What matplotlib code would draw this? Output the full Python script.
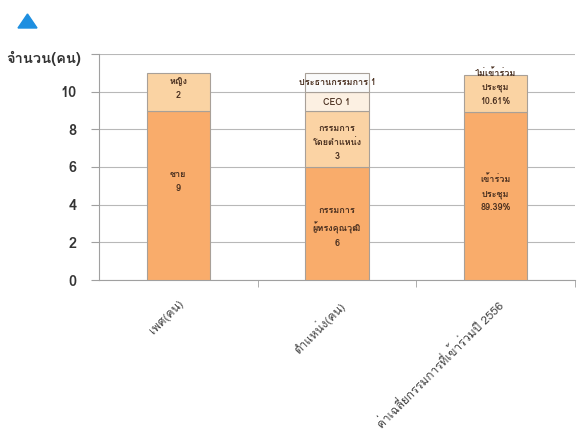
import numpy as np
import matplotlib
matplotlib.use('Agg')
import matplotlib.pyplot as plt
from matplotlib import font_manager
from matplotlib.patches import Polygon

# หาฟอนต์ที่มีตัวอักษรไทย
def find_thai_font():
    try:
        from fontTools.ttLib import TTFont
    except ImportError:
        return None
    for f in font_manager.fontManager.ttflist:
        try:
            tt = TTFont(f.fname, fontNumber=0, lazy=True)
            if 0x0E01 in tt.getBestCmap():
                return f.name
        except Exception:
            continue
    return None

thai = find_thai_font()
families = ([thai] if thai else []) + ['DejaVu Sans']
plt.rcParams['font.family'] = families

# ข้อมูล
categories = ['เพศ(คน)', 'ตำแหน่ง(คน)', 'ค่าเฉลี่ยกรรมการที่เข้าร่วมปี 2556']
seg_values = [
    [9, 2],
    [6, 3, 1, 1],
    [8.94, 1.96],
]
seg_labels = [
    ['ชาย\n9', 'หญิง\n2'],
    ['กรรมการ\nผู้ทรงคุณวุฒิ\n6', 'กรรมการ\nโดยตำแหน่ง\n3', 'CEO 1', 'ประธานกรรมการ 1'],
    ['เข้าร่วม\nประชุม\n89.39%', 'ไม่เข้าร่วม\nประชุม\n10.61%'],
]
label_y = [
    [5.25, 10.15],
    [2.8, 7.3, 9.45, 10.5],
    [4.6, 10.25],
]
seg_colors = [
    ['#F9AC6B', '#FAD3A3'],
    ['#F9AC6B', '#FBD3A4', '#FCF0E2', '#FAFAFA'],
    ['#F9AC6B', '#FAD3A3'],
]
yticks = [0, 2, 4, 6, 8, 10]

fig = plt.figure(figsize=(5.77, 4.42), dpi=100)
ax = fig.add_axes([99/577, 1 - 280/442, 476/577, (280 - 54)/442])

x = np.arange(len(categories))
for i in range(len(categories)):
    bottom = 0
    for v, lab, ly, c in zip(seg_values[i], seg_labels[i], label_y[i], seg_colors[i]):
        ax.bar(x[i], v, bottom=bottom, width=0.4, color=c, edgecolor='#A8A098',
               linewidth=0.8, zorder=3)
        ax.text(x[i], ly, lab, ha='center', va='center', fontsize=6.5,
                fontweight='bold', color='#4A3020', linespacing=1.7, zorder=5)
        bottom += v

ax.set_xlim(-0.5, 2.5)
ax.set_ylim(0, 12)
ax.set_yticks(list(yticks) + [12])
ax.set_yticklabels([str(t) for t in yticks] + [''])
ax.yaxis.grid(True, color='#B8B8B8', linewidth=0.8, zorder=0)
ax.tick_params(axis='y', length=6, color='#A0A0A0', labelsize=10.5,
               labelcolor='#333333', pad=10)
for t in ax.get_yticklabels():
    t.set_fontweight('bold')

ax.set_xticks(x)
ax.set_xticklabels(categories, rotation=45, ha='right', rotation_mode='anchor',
                   fontsize=8.5, color='#444444')
ax.tick_params(axis='x', length=0, pad=13)
ax.set_xticks([0.5, 1.5, 2.5], minor=True)
ax.tick_params(axis='x', which='minor', length=5, color='#A0A0A0')

for s in ['top', 'right']:
    ax.spines[s].set_visible(False)
ax.spines['left'].set_color('#A0A0A0')
ax.spines['bottom'].set_color('#A0A0A0')

fig.text(6/577, 1 - 58/442, 'จำนวน(คน)', fontsize=10.5, fontweight='bold',
         color='#333333', va='center', ha='left')

# สามเหลี่ยมสีฟ้า
tri = Polygon([[18/577, 1 - 28/442], [37/577, 1 - 28/442], [27.5/577, 1 - 14/442]],
              closed=True, transform=fig.transFigure, color='#1E8FE0')
fig.patches.append(tri)

fig.savefig('out.png', dpi=100)
